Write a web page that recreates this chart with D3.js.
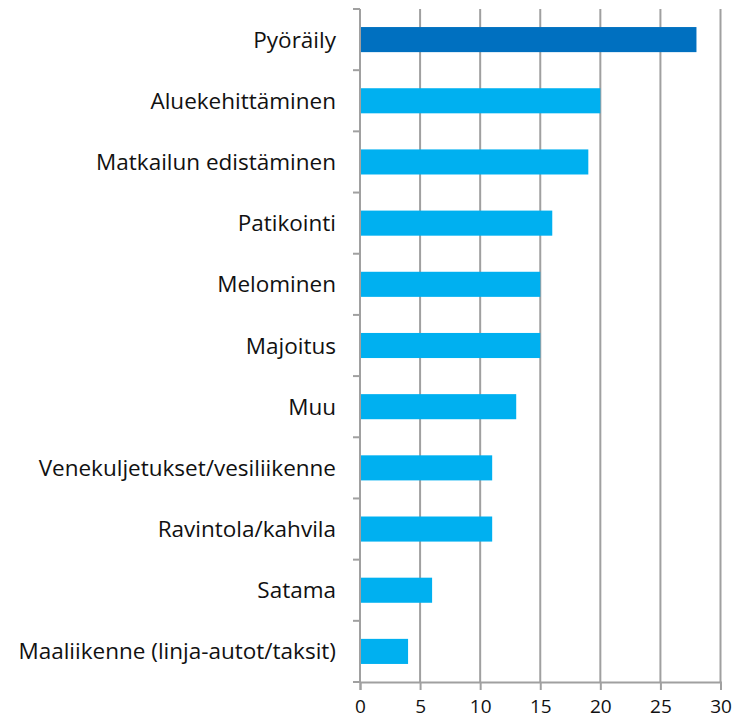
<!DOCTYPE html>
<html><head><meta charset="utf-8">
<script src="https://cdn.jsdelivr.net/npm/d3@7"></script>
<style>body{margin:0;background:#fff}svg{display:block}</style>
</head><body>
<svg id="chart" width="749" height="720"></svg>
<script>
const categories = ["Pyöräily","Aluekehittäminen","Matkailun edistäminen","Patikointi","Melominen","Majoitus","Muu","Venekuljetukset/vesiliikenne","Ravintola/kahvila","Satama","Maaliikenne (linja-autot/taksit)"];
const values = [28,20,19,16,15,15,13,11,11,6,4];
const highlight = ["Pyöräily"];
const xTicks = [0,5,10,15,20,25,30];

const svg = d3.select("#chart");
const m = {left:360, top:9, right:28.5, bottom:38};
const W = 749, H = 720;
const x = d3.scaleLinear().domain([0,30]).range([m.left, W - m.right]);
const y = d3.scaleBand().domain(categories).range([m.top, H - m.bottom]).paddingInner(0.59).paddingOuter(0.295);
const font = "'Open Sans', sans-serif";

// gridlines
svg.append("g").selectAll("line").data(xTicks.slice(1)).join("line")
  .attr("x1", d=>x(d)).attr("x2", d=>x(d))
  .attr("y1", m.top).attr("y2", H - m.bottom)
  .attr("stroke", "#a0a0a0").attr("stroke-width", 2);

// bars
svg.append("g").selectAll("rect").data(categories).join("rect")
  .attr("x", x(0)).attr("y", d=>y(d))
  .attr("width", (d,i)=>x(values[i]) - x(0))
  .attr("height", y.bandwidth())
  .attr("fill", d=> highlight.includes(d) ? "#0070C0" : "#00B0F0");

// category axis (left) with boundary ticks
const yb = d3.scaleLinear().domain([0, categories.length]).range([m.top, H - m.bottom]);
const ga = svg.append("g");
ga.append("line").attr("x1", x(0)).attr("x2", x(0)).attr("y1", m.top).attr("y2", H - m.bottom)
  .attr("stroke", "#a0a0a0").attr("stroke-width", 2);
ga.selectAll("line.t").data(d3.range(categories.length + 1)).join("line").attr("class","t")
  .attr("x1", x(0) - 7).attr("x2", x(0)).attr("y1", d=>yb(d)).attr("y2", d=>yb(d))
  .attr("stroke", "#a0a0a0").attr("stroke-width", 2);
ga.selectAll("text").data(categories).join("text")
  .attr("x", x(0) - 24).attr("y", d=>y(d) + y.bandwidth()/2 + 8)
  .attr("text-anchor", "end")
  .attr("font-family", font).attr("font-size", 22.5).attr("fill", "#111")
  .text(d=>d);

// x axis
const gx = svg.append("g").attr("transform", `translate(0,${H - m.bottom})`)
  .call(d3.axisBottom(x).tickValues(xTicks).tickSize(8).tickPadding(10));
gx.select(".domain").attr("stroke", "#a0a0a0").attr("stroke-width", 2);
gx.selectAll(".tick line").attr("stroke", "#a0a0a0").attr("stroke-width", 2);
gx.selectAll(".tick text").attr("font-family", font).attr("font-size", 19).attr("fill", "#111");
</script>
</body></html>
